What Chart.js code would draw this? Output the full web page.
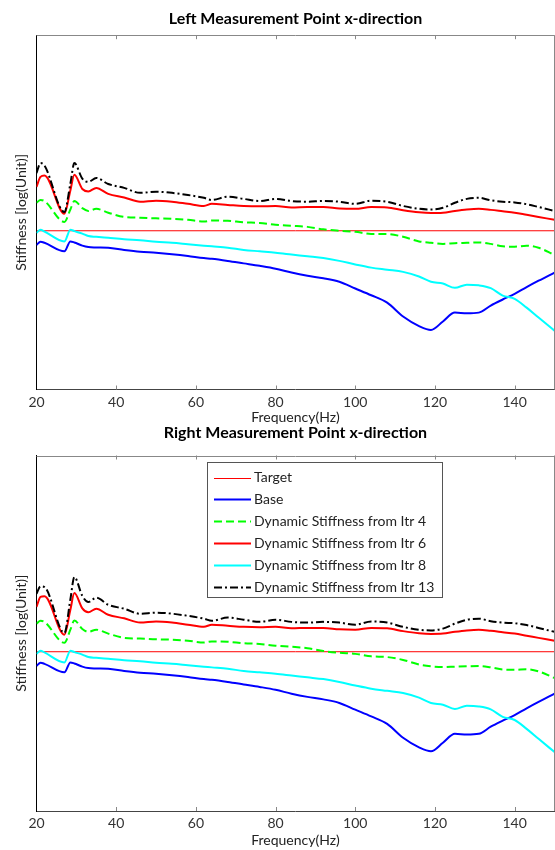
<!DOCTYPE html>
<html>
<head>
<meta charset="utf-8">
<script src="https://cdn.jsdelivr.net/npm/chart.js@4.4.0/dist/chart.umd.min.js"></script>
<style>
  html, body { margin: 0; padding: 0; background: #fff; }
  body { width: 555px; height: 850px; position: relative; overflow: hidden; }
  .box { position: absolute; left: 0; width: 555px; }
</style>
</head>
<body>
<div class="box" style="top:0;height:430px"><canvas id="left"></canvas></div>
<div class="box" style="top:415px;height:435px"><canvas id="right"></canvas></div>
<script>
var freq = [20, 21, 22, 27, 28.5, 29.5, 31.5, 33, 35, 38, 42, 46, 50, 54, 58, 62, 64, 68, 72, 76,
            80, 84, 88, 92, 96, 100, 104, 108, 112, 116, 119, 122, 125, 128, 131, 134, 137, 140, 143, 146, 150];

var target = 4.48;

var leftBase = [4.08, 4.17, 4.14, 3.90, 4.18, 4.15, 4.06, 4.02, 4.01, 4.00, 3.94, 3.89, 3.86, 3.82, 3.77, 3.71, 3.69, 3.63, 3.56, 3.49,
                3.41, 3.30, 3.21, 3.14, 3.04, 2.85, 2.66, 2.45, 2.06, 1.79, 1.68, 1.92, 2.17, 2.15, 2.17, 2.37, 2.54, 2.70, 2.89, 3.07, 3.30];
var leftItr4 = [5.27, 5.35, 5.32, 4.73, 5.08, 5.32, 5.12, 5.04, 5.10, 4.99, 4.87, 4.85, 4.83, 4.82, 4.79, 4.74, 4.77, 4.76, 4.72, 4.70,
                4.65, 4.62, 4.59, 4.52, 4.48, 4.45, 4.39, 4.39, 4.31, 4.18, 4.14, 4.11, 4.13, 4.14, 4.15, 4.11, 4.04, 4.03, 4.06, 4.00, 3.80];
var leftItr6 = [5.72, 6.00, 6.04, 4.96, 5.62, 6.06, 5.66, 5.59, 5.69, 5.52, 5.42, 5.30, 5.33, 5.30, 5.24, 5.18, 5.24, 5.21, 5.18, 5.17,
                5.18, 5.14, 5.15, 5.15, 5.11, 5.10, 5.15, 5.14, 5.06, 5.00, 4.98, 4.99, 5.04, 5.08, 5.10, 5.07, 5.03, 4.99, 4.93, 4.87, 4.79];
var leftItr8 = [4.42, 4.51, 4.46, 4.18, 4.51, 4.47, 4.40, 4.33, 4.31, 4.28, 4.24, 4.21, 4.17, 4.14, 4.10, 4.06, 4.04, 4.00, 3.94, 3.90,
                3.86, 3.81, 3.76, 3.71, 3.63, 3.53, 3.44, 3.38, 3.32, 3.19, 3.04, 2.99, 2.87, 2.96, 2.94, 2.86, 2.65, 2.56, 2.31, 2.03, 1.66];
var leftItr13 = [6.11, 6.39, 6.32, 5.01, 5.81, 6.39, 5.95, 5.86, 5.97, 5.80, 5.69, 5.55, 5.58, 5.55, 5.49, 5.41, 5.35, 5.44, 5.38, 5.32,
                 5.38, 5.32, 5.30, 5.32, 5.30, 5.24, 5.33, 5.30, 5.18, 5.10, 5.08, 5.13, 5.27, 5.38, 5.41, 5.34, 5.30, 5.28, 5.23, 5.15, 5.04];

var rightBase = [4.08, 4.17, 4.14, 3.90, 4.18, 4.15, 4.06, 4.02, 4.01, 4.00, 3.94, 3.89, 3.86, 3.82, 3.77, 3.71, 3.69, 3.63, 3.56, 3.49,
                 3.41, 3.30, 3.21, 3.14, 3.04, 2.85, 2.66, 2.45, 2.06, 1.79, 1.68, 1.92, 2.17, 2.15, 2.17, 2.37, 2.54, 2.70, 2.89, 3.07, 3.30];
var rightItr4 = [5.27, 5.35, 5.32, 4.73, 5.10, 5.36, 5.12, 5.04, 5.10, 4.99, 4.87, 4.85, 4.83, 4.82, 4.79, 4.74, 4.77, 4.76, 4.72, 4.70,
                 4.65, 4.62, 4.58, 4.50, 4.45, 4.42, 4.35, 4.33, 4.25, 4.12, 4.07, 4.05, 4.06, 4.07, 4.08, 4.04, 3.98, 3.97, 3.99, 3.93, 3.74];
var rightItr6 = [5.74, 6.02, 6.04, 4.96, 5.66, 6.13, 5.70, 5.59, 5.69, 5.52, 5.42, 5.30, 5.33, 5.30, 5.24, 5.18, 5.24, 5.21, 5.18, 5.17,
                 5.18, 5.14, 5.15, 5.15, 5.11, 5.10, 5.15, 5.14, 5.06, 5.00, 4.98, 4.99, 5.04, 5.08, 5.10, 5.07, 5.03, 4.99, 4.93, 4.87, 4.79];
var rightItr8 = [4.42, 4.51, 4.46, 4.18, 4.51, 4.47, 4.40, 4.33, 4.31, 4.28, 4.24, 4.21, 4.17, 4.14, 4.10, 4.06, 4.04, 4.00, 3.94, 3.90,
                 3.86, 3.81, 3.76, 3.71, 3.63, 3.53, 3.44, 3.38, 3.32, 3.19, 3.04, 2.99, 2.87, 2.96, 2.94, 2.86, 2.65, 2.56, 2.31, 2.03, 1.66];
var rightItr13 = [6.11, 6.32, 6.30, 5.01, 5.95, 6.58, 6.05, 5.88, 6.00, 5.80, 5.69, 5.55, 5.58, 5.55, 5.49, 5.41, 5.35, 5.44, 5.38, 5.32,
                  5.38, 5.32, 5.30, 5.32, 5.30, 5.24, 5.33, 5.30, 5.18, 5.10, 5.08, 5.13, 5.27, 5.38, 5.41, 5.34, 5.30, 5.28, 5.23, 5.15, 5.04];

var seriesNames = ["Target", "Base", "Dynamic Stiffness from Itr 4", "Dynamic Stiffness from Itr 6",
                   "Dynamic Stiffness from Itr 8", "Dynamic Stiffness from Itr 13"];
var xTicks = [20, 40, 60, 80, 100, 120, 140];

var FONT = "Lato, 'Open Sans', sans-serif";

function points(vals) {
    return freq.map(function (f, i) { return { x: f, y: vals[i] }; });
}

function makeDatasets(base, itr4, itr6, itr8, itr13) {
    var styles = [
        { color: "#ff0000", width: 1, dash: [] },
        { color: "#0000ff", width: 2, dash: [] },
        { color: "#00ff00", width: 2, dash: [8, 4] },
        { color: "#ff0000", width: 2, dash: [] },
        { color: "#00ffff", width: 2, dash: [] },
        { color: "#000000", width: 2, dash: [8, 3, 2, 3] }
    ];
    var data = [
        [{ x: freq[0], y: target }, { x: freq[freq.length - 1], y: target }],
        points(base), points(itr4), points(itr6), points(itr8), points(itr13)
    ];
    return data.map(function (d, i) {
        return {
            label: seriesNames[i],
            data: d,
            borderColor: styles[i].color,
            borderWidth: styles[i].width,
            borderDash: styles[i].dash,
            pointRadius: 0,
            fill: false,
            cubicInterpolationMode: "monotone",
            order: 6 - i
        };
    });
}

// box + inward tick marks like the matlab axes
var framePlugin = {
    id: "frame",
    afterDraw: function (chart) {
        var ctx = chart.ctx, a = chart.chartArea, xs = chart.scales.x;
        ctx.save();
        ctx.lineWidth = 1;
        ctx.strokeStyle = "#888";
        ctx.beginPath();
        ctx.moveTo(a.left, Math.round(a.top) + 0.5);
        ctx.lineTo(a.right, Math.round(a.top) + 0.5);
        ctx.moveTo(Math.round(a.right) - 0.5, a.top);
        ctx.lineTo(Math.round(a.right) - 0.5, a.bottom);
        xTicks.forEach(function (t) {
            if (t === 20) return;
            var px = Math.round(xs.getPixelForValue(t)) + 0.5;
            ctx.moveTo(px, a.top);
            ctx.lineTo(px, a.top + 4);
            ctx.moveTo(px, a.bottom);
            ctx.lineTo(px, a.bottom - 4);
        });
        ctx.stroke();
        ctx.restore();
    }
};

// legend drawn as a boxed list in the matlab style
var legendPlugin = {
    id: "boxLegend",
    afterDraw: function (chart, args, opts) {
        if (!opts.show) return;
        var ctx = chart.ctx;
        var x0 = 207.5, y0 = 47.5, w = 235, h = 135;
        ctx.save();
        ctx.fillStyle = "#fff";
        ctx.fillRect(x0, y0, w, h);
        ctx.strokeStyle = "#555";
        ctx.lineWidth = 1;
        ctx.strokeRect(x0, y0, w, h);
        ctx.font = "14px " + FONT;
        ctx.textBaseline = "middle";
        chart.data.datasets.forEach(function (ds, i) {
            var y = 62.5 + i * 21.9;
            ctx.strokeStyle = ds.borderColor;
            ctx.lineWidth = ds.borderWidth;
            ctx.setLineDash(ds.borderDash);
            ctx.beginPath();
            ctx.moveTo(214, Math.round(y) + 0.5);
            ctx.lineTo(251, Math.round(y) + 0.5);
            ctx.stroke();
            ctx.setLineDash([]);
            ctx.fillStyle = "#222";
            ctx.fillText(ds.label, 254, y);
        });
        ctx.restore();
    }
};

function makeChart(id, title, sets, g) {
    var ctx = document.getElementById(id).getContext("2d");
    return new Chart(ctx, {
        type: "line",
        data: { datasets: sets },
        plugins: [framePlugin, legendPlugin],
        options: {
            responsive: true,
            maintainAspectRatio: false,
            animation: false,
            layout: { padding: { left: 0, right: 0.5, top: 0, bottom: 0 } },
            plugins: {
                legend: { display: false },
                tooltip: { enabled: false },
                boxLegend: { show: g.legend },
                title: {
                    display: true,
                    text: title,
                    fullSize: false,
                    color: "#000",
                    font: { family: FONT, size: 16, weight: "bold" },
                    padding: { top: g.titleTop, bottom: g.titleBottom }
                }
            },
            scales: {
                x: {
                    type: "linear",
                    min: 20,
                    max: 150,
                    afterFit: function (s) { s.height = g.xHeight; },
                    afterBuildTicks: function (s) {
                        s.ticks = xTicks.map(function (v) { return { value: v }; });
                    },
                    grid: { display: false },
                    border: { display: true, color: "#444", width: 1 },
                    ticks: {
                        color: "#333",
                        padding: g.tickPad,
                        maxRotation: 0,
                        font: { family: FONT, size: 14 }
                    },
                    title: {
                        display: true,
                        text: "Frequency(Hz)",
                        color: "#222",
                        font: { family: FONT, size: 14 },
                        padding: { top: 0, bottom: g.xTitlePad }
                    }
                },
                y: {
                    min: 0,
                    max: 10,
                    afterFit: function (s) { s.width = 36.5; },
                    grid: { display: false },
                    border: { display: true, color: "#000", width: 1 },
                    ticks: { display: false },
                    title: {
                        display: true,
                        text: "Stiffness [log(Unit)]",
                        color: "#222",
                        font: { family: FONT, size: 14 },
                        padding: { top: 13, bottom: 0 }
                    }
                }
            }
        }
    });
}

var leftChart = makeChart("left", "Left Measurement Point x-direction",
    makeDatasets(leftBase, leftItr4, leftItr6, leftItr8, leftItr13),
    { titleTop: 9, titleBottom: 7, xHeight: 40.5, tickPad: -3, xTitlePad: 3.8, legend: false });

var rightChart = makeChart("right", "Right Measurement Point x-direction",
    makeDatasets(rightBase, rightItr4, rightItr6, rightItr8, rightItr13),
    { titleTop: 8.5, titleBottom: 12.8, xHeight: 39, tickPad: -4.4, xTitlePad: 1.6, legend: true });
</script>
</body>
</html>
